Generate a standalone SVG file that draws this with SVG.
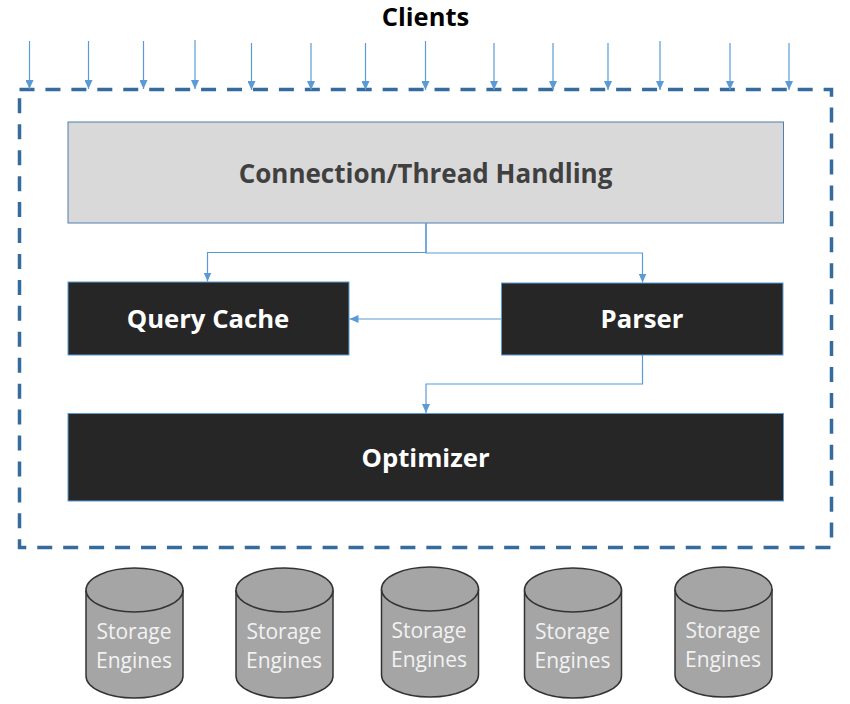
<svg xmlns="http://www.w3.org/2000/svg" width="850" height="704" viewBox="0 0 850 704">
<style>
text{font-family:"Open Sans","Noto Sans","Liberation Sans",sans-serif;text-anchor:middle}
.b{font-weight:700}
.box{stroke:#5b9bd5;stroke-width:1}
.dark{fill:#262626}
.c{fill:none;stroke:#5b9bd5;stroke-width:1.2}
.cyl{fill:#a5a5a5;stroke:#333;stroke-width:1.5}
.st{fill:#f2f2f2;font-size:21px}
.w{fill:#fff;font-size:25.7px}
</style>
<defs>
<marker id="a" markerUnits="userSpaceOnUse" markerWidth="10" markerHeight="8" refX="9" refY="4" orient="auto"><path d="M0 0L9 4L0 8Z" fill="#5b9bd5"/></marker>
<g id="cy">
<path class="cyl" d="M-48.500 22V108C-48.500 120 -27 130 0 130S48.500 120 48.500 108V22"/>
<ellipse class="cyl" cx="0" cy="22" rx="48.500" ry="22"/>
</g>
</defs>
<rect width="850" height="704" fill="#fff"/>
<g id="clients"><text class="b" x="425.500" y="26" font-size="25.500" fill="#000">Clients</text></g>
<g id="boundary"><rect x="19.500" y="89.500" width="812" height="458" fill="none" stroke="#366b9e" stroke-width="3.500" stroke-dasharray="15 10.94"/></g>
<g id="connection"><rect x="68" y="122" width="715.500" height="101" fill="#d9d9d9" stroke="#4f7fae" stroke-width="1"/><text class="b" x="425.500" y="182.500" font-size="26" fill="#404040">Connection/Thread Handling</text></g>
<g id="query-cache"><rect class="box dark" x="68" y="282" width="281" height="73"/><text class="b w" x="208" y="328">Query Cache</text></g>
<g id="parser"><rect class="box dark" x="501.500" y="283" width="281.500" height="72"/><text class="b w" x="642" y="328">Parser</text></g>
<g id="optimizer"><rect class="box dark" x="68" y="413.500" width="715.500" height="87.500"/><text class="b w" x="425.500" y="467">Optimizer</text></g>
<g id="connectors">
<path class="c" marker-end="url(#a)" d="M29.500 41V89"/>
<path class="c" marker-end="url(#a)" d="M88.500 41V89"/>
<path class="c" marker-end="url(#a)" d="M143.500 41V89"/>
<path class="c" marker-end="url(#a)" d="M195 40V89"/>
<path class="c" marker-end="url(#a)" d="M251.500 43V90"/>
<path class="c" marker-end="url(#a)" d="M311 43V90"/>
<path class="c" marker-end="url(#a)" d="M365.500 43V90"/>
<path class="c" marker-end="url(#a)" d="M425.500 41V90"/>
<path class="c" marker-end="url(#a)" d="M494 43V90"/>
<path class="c" marker-end="url(#a)" d="M553 43V90"/>
<path class="c" marker-end="url(#a)" d="M608 43V90"/>
<path class="c" marker-end="url(#a)" d="M660 41V90"/>
<path class="c" marker-end="url(#a)" d="M730 43V90"/>
<path class="c" marker-end="url(#a)" d="M789 43V90"/>
<path class="c" marker-end="url(#a)" d="M426 223V252.500H207.500V281.500"/>
<path class="c" marker-end="url(#a)" d="M426 223V253H642.500V282.500"/>
<path class="c" marker-end="url(#a)" d="M501.500 319H349.500"/>
<path class="c" marker-end="url(#a)" d="M642.500 355V384H426V413"/>
</g>
<g id="engine-1"><use href="#cy" x="134.500" y="568"/><text class="st" x="134" y="639">Storage</text><text class="st" x="134" y="668">Engines</text></g>
<g id="engine-2"><use href="#cy" x="284.500" y="568"/><text class="st" x="284" y="639">Storage</text><text class="st" x="284" y="668">Engines</text></g>
<g id="engine-3"><use href="#cy" x="430" y="567"/><text class="st" x="429" y="638">Storage</text><text class="st" x="429" y="667">Engines</text></g>
<g id="engine-4"><use href="#cy" x="573" y="568"/><text class="st" x="572.500" y="639">Storage</text><text class="st" x="572.500" y="668">Engines</text></g>
<g id="engine-5"><use href="#cy" x="723.500" y="567"/><text class="st" x="723" y="638">Storage</text><text class="st" x="723" y="667">Engines</text></g>
</svg>
